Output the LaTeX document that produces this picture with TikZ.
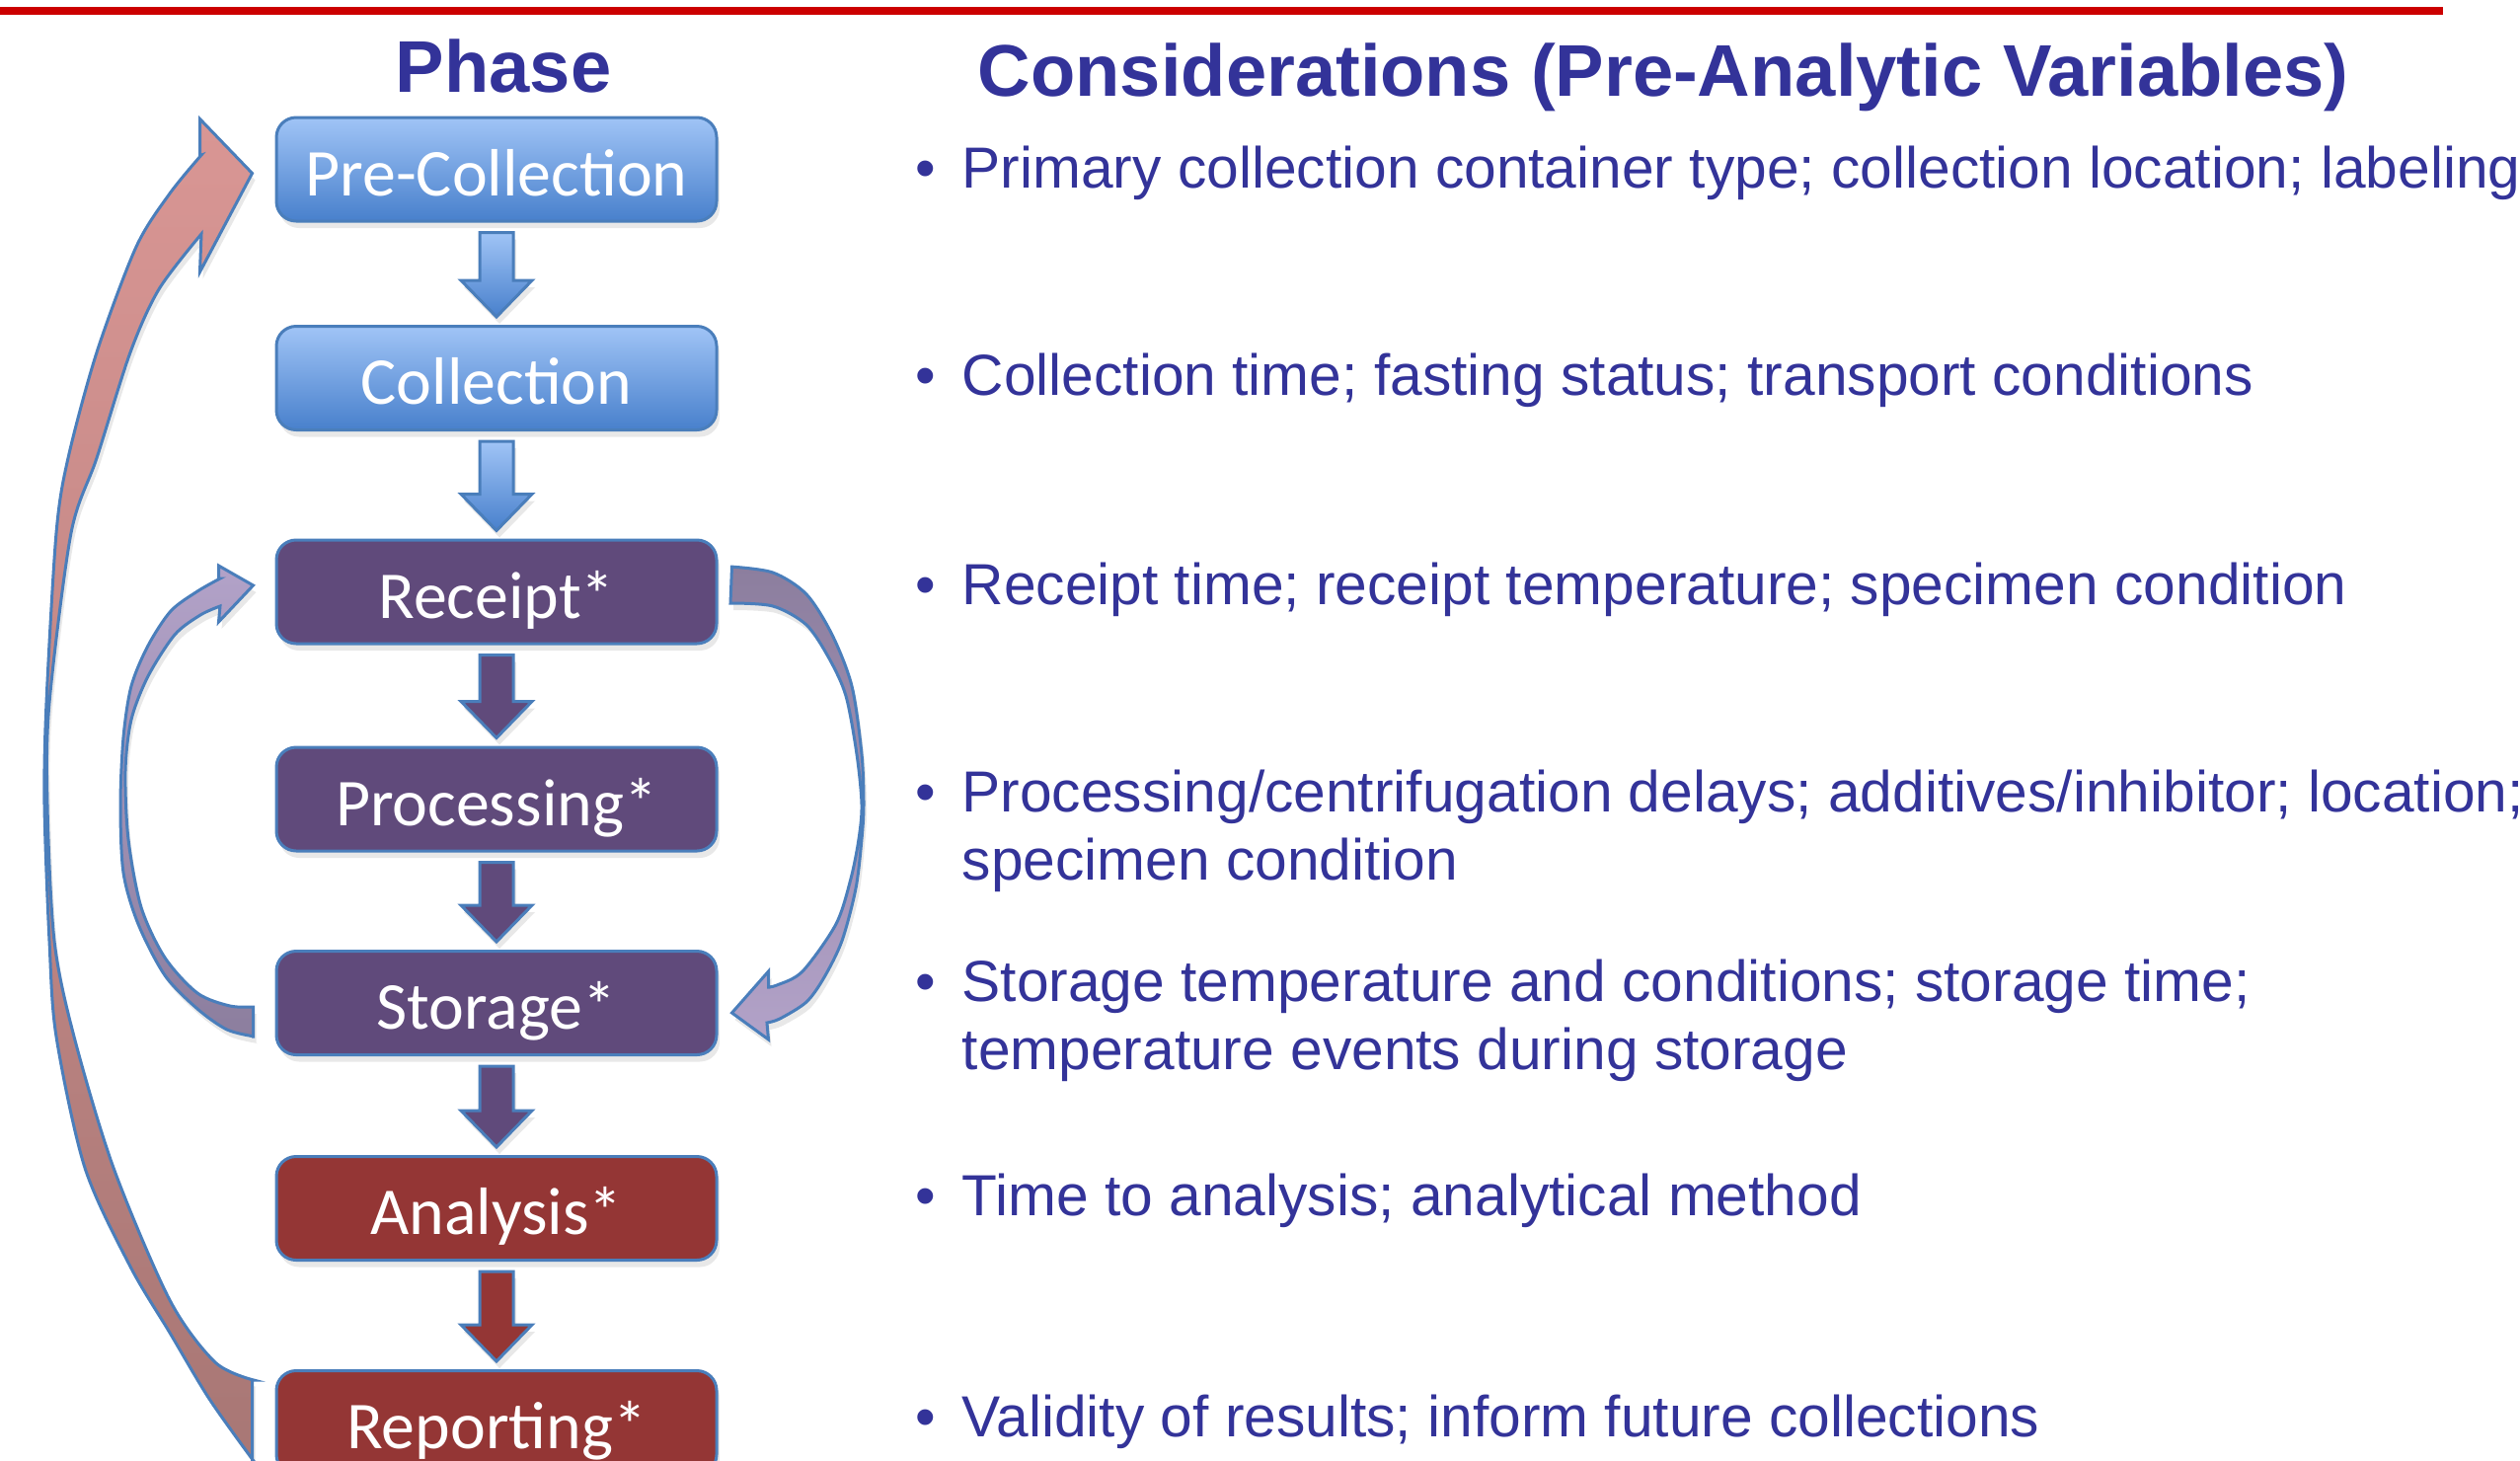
\documentclass[tikz,border=0pt]{standalone}
\usepackage{fontspec}
\setmainfont{Liberation Sans}
\newfontfamily\boxfont{Carlito}
\usepackage{tikz}
\usetikzlibrary{calc, shadows}

\definecolor{headblue}{RGB}{51,51,153}
\definecolor{rulered}{RGB}{204,0,0}
\definecolor{edgeblue}{RGB}{74,126,187}
\definecolor{preTop}{RGB}{160,196,246}
\definecolor{preBot}{RGB}{72,128,204}
\definecolor{midpurple}{RGB}{96,74,123}
\definecolor{postred}{RGB}{148,54,53}
\definecolor{lilacLight}{RGB}{178,162,200}
\definecolor{lilacDark}{RGB}{140,126,158}
\definecolor{roseLight}{RGB}{217,150,148}
\definecolor{roseDark}{RGB}{168,119,117}

\tikzset{
  softshadow/.style={drop shadow={shadow xshift=0.3mm, shadow yshift=-0.7mm, opacity=0.18}},
  phasebox/.style={rectangle, rounded corners=2mm, minimum width=44.6mm, minimum height=10.5mm,
    draw=edgeblue, line width=0.3mm, text=white, text height=5.3mm, text depth=0mm,
    font=\boxfont\fontsize{19.3}{22}\selectfont, softshadow},
  prebox/.style={phasebox, top color=preTop, bottom color=preBot},
  midbox/.style={phasebox, fill=midpurple},
  postbox/.style={phasebox, fill=postred},
  blockarrow/.style={draw=edgeblue, line width=0.3mm, line join=miter, softshadow},
  prearrow/.style={blockarrow, top color=preTop, bottom color=preBot},
  midarrow/.style={blockarrow, fill=midpurple},
  postarrow/.style={blockarrow, fill=postred},
  loopback/.style={draw=edgeblue, line width=0.3mm, line join=miter, softshadow},
  heading/.style={text=headblue, font=\bfseries\fontsize{21.1}{25}\selectfont, inner sep=0pt},
  varitem/.style={text=headblue, font=\fontsize{16.7}{19.9}\selectfont,
    anchor=base west, inner sep=0pt},
}

% down arrow from the bottom of one box to the top of the next
\newcommand\phasearrow[3]{%
  \path[#3] ($(#1.south)+(-17,10)$) -- ($(#2.north)+(-17,-45)$)
    -- ($(#2.north)+(-36,-45)$) -- ($(#2.north)+(0,-8)$)
    -- ($(#2.north)+(36,-45)$) -- ($(#2.north)+(17,-45)$)
    -- ($(#1.south)+(17,10)$) -- cycle;}
\newcommand\varbullet{\llap{\textbullet\hspace{2.7mm}}}
\newcommand\twolines[2]{\begin{tabular}[t]{@{}l@{}}#1\\#2\end{tabular}}

\begin{document}
\begin{tikzpicture}[x=0.1mm, y=-0.1mm]
\useasboundingbox (0,0) rectangle (2553,1479);
\clip (0,0) rectangle (2553,1479);

\draw[rulered, line width=0.8mm] (0,11) -- (2475,11);

\node[heading, anchor=base] (phase) at (510,93) {Phase};
\node[heading, anchor=base west] (consid) at (990,97) {Considerations (Pre-Analytic Variables)};

% the phases
\foreach \n/\y/\s/\t in {
    pre/171.5/prebox/Pre-Collection,
    col/383/prebox/Collection,
    rec/599.5/midbox/Receipt*,
    pro/809.5/midbox/Processing*,
    sto/1016/midbox/Storage*,
    ana/1224/postbox/Analysis*,
    rep/1441/postbox/Reporting*} {
    \node[\s] (\n) at (503,\y) {\t};
}

\foreach \a/\b/\s in {pre/col/prearrow, col/rec/prearrow, rec/pro/midarrow,
    pro/sto/midarrow, sto/ana/midarrow, ana/rep/postarrow}
    \phasearrow{\a}{\b}{\s};

% storage back up to receipt
\coordinate (recIn) at ($(rec.west)+(-22,-6.5)$);
\coordinate (stoOut) at ($(sto.west)+(-22,4)$);
\path[loopback, top color=lilacLight, bottom color=lilacDark]
  ($(stoOut)+(0,30)$) -- (stoOut)
  -- plot[smooth] coordinates {(258,1020) (233,1019) (200,1006) (167,970) (143,919) (130,850)
       (127,781) (133,729) (150,685) (177,643) (203,623) (223,614)}
  -- ($(recIn)+(-35,37)$) -- (recIn) -- ($(recIn)+(-35,-20)$) -- ($(recIn)+(-35,-7)$)
  -- plot[smooth] coordinates {(223,586) (200,599) (173,619) (150,654) (133,695) (125,747)
       (122,815) (125,884) (140,936) (167,988) (200,1022) (230,1043) (258,1050)}
  -- cycle;

% receipt over to storage
\coordinate (recOut) at ($(rec.east)+(14,-25.5)$);
\coordinate (stoIn) at ($(sto.east)+(14,10)$);
\path[loopback, top color=lilacDark, bottom color=lilacLight]
  (recOut) -- plot[smooth] coordinates {(740,574) (783,580) (817,602) (843,643) (863,695)
       (873,764) (875,815) (873,850) (867,900) (853,953) (835,990) (817,1015) (790,1032) (777,1036)}
  -- ($(stoIn)+(37,27)$) -- (stoIn) -- ($(stoIn)+(37,-42)$) -- ($(stoIn)+(37,-26)$)
  -- plot[smooth] coordinates {(777,1000) (787,998) (813,984) (847,936) (862,890) (870,850)
       (873,815) (868,764) (857,705) (840,667) (817,633) (783,614) (740,611)}
  -- cycle;

% reporting all the way back to pre-collection
\coordinate (preIn) at ($(pre.west)+(-23,4)$);
\coordinate (repOut) at ($(rep.west)+(-23,-43)$);
\path[loopback, top color=roseLight, bottom color=roseDark]
  ($(repOut)+(0,82)$) -- (repOut)
  -- plot[smooth] coordinates {(257,1398) (218,1380) (172,1317) (115,1183) (75,1050) (55,953)
       (48,815) (50,712) (72,540) (98,464) (132,357) (161,293) (204,237)}
  -- ($(preIn)+(-53,100)$) -- (preIn) -- ($(preIn)+(-53,-55)$) -- ($(preIn)+(-53,-18)$)
  -- plot[smooth] coordinates {(204,157) (172,196) (138,250) (98,357) (69,464) (57,540)
       (47,712) (45,815) (50,953) (57,1050) (86,1183) (132,1283) (172,1350) (212,1417) (257,1480)}
  -- cycle;

% pre-analytic variables per phase
\node[varitem] (v1) at (974,190) {\varbullet Primary collection container type; collection location; labeling};
\node[varitem] (v2) at (974,400) {\varbullet Collection time; fasting status; transport conditions};
\node[varitem] (v3) at (974,612) {\varbullet Receipt time; receipt temperature; specimen condition};
\node[varitem] (v4) at (974,822) {\varbullet\twolines{Processing/centrifugation delays; additives/inhibitor; location;}{specimen condition}};
\node[varitem] (v5) at (974,1014) {\varbullet\twolines{Storage temperature and conditions; storage time;}{temperature events during storage}};
\node[varitem] (v6) at (974,1231) {\varbullet Time to analysis; analytical method};
\node[varitem] (v7) at (974,1455) {\varbullet Validity of results; inform future collections};
\end{tikzpicture}
\end{document}
